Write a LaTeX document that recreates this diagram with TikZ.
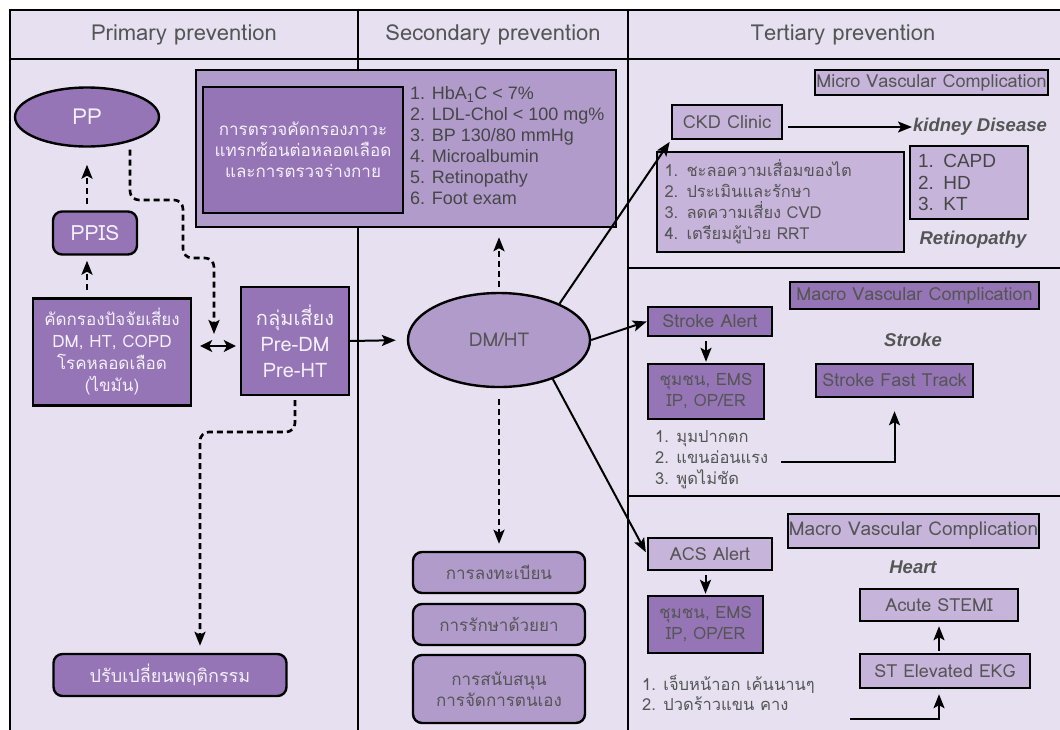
\documentclass[tikz,border=0pt]{standalone}
\usepackage{fontspec}
\setmainfont{Liberation Sans}
\newfontfamily\thai[Script=Thai]{Loma}
\usetikzlibrary{arrows.meta,shapes.geometric,calc}
\definecolor{bg}{HTML}{E6E0F0}
\definecolor{dark}{HTML}{9575B5}
\definecolor{mid}{HTML}{B19BCB}
\definecolor{light}{HTML}{C6B4DA}
\definecolor{txt}{HTML}{555555}
\definecolor{txtd}{HTML}{464646}
\definecolor{wtxt}{HTML}{F4F0FA}
\newcommand\tf[2]{\thai\fontsize{#1}{#2}\selectfont}
\newcommand\af[2]{\fontsize{#1}{#2}\selectfont}
\begin{document}
\begin{tikzpicture}[x=1pt,y=-1pt,
  bx/.style={draw=black,line width=2.4pt,inner sep=0pt,align=center},
  rbx/.style={bx,rounded corners=9pt},
  ell/.style={ellipse,draw=black,line width=2.4pt,inner sep=0pt},
  dk/.style={fill=dark},
  md/.style={fill=mid},
  lt/.style={fill=light},
  wt/.style={text=wtxt},
  gt/.style={text=txt},
  itl/.style={text=txt,font=\af{18.5}{22}\bfseries\itshape},
  arr/.style={line width=2pt,-{Stealth[length=14pt,width=11pt,inset=3pt]}},
  darr/.style={line width=2.6pt,dash pattern=on 6pt off 4pt,-{Stealth[length=14pt,width=11pt,inset=3pt]}},
  rule/.style={line width=2.8pt}]
\useasboundingbox (0,0) rectangle (1060,729);
\begin{scope}
\clip (0,0) rectangle (1060,729);
\fill[bg] (10,10) rectangle (1080,750);
\draw[rule] (10,750) -- (10,10) -- (1080,10);
\draw[rule] (10,59) -- (1080,59);
\draw[rule] (358,10) -- (358,750);
\draw[rule] (628,10) -- (628,750);
\draw[rule] (628,268) -- (1080,268);
\draw[rule] (628,496) -- (1080,496);

% headers
\node[gt,font=\tf{22}{26}] (h1) at (184,35) {Primary prevention};
\node[gt,font=\tf{22}{26}] (h2) at (493,35) {Secondary prevention};
\node[gt,font=\tf{22}{26}] (h3) at (843,35) {Tertiary prevention};

% primary
\node[ell,dk,wt,minimum width=144,minimum height=59,font=\tf{22}{26}] (pp) at (87,117) {PP};
\node[rbx,dk,wt,minimum width=84,minimum height=43,font=\tf{21}{25}] (ppis) at (95,233) {PPIS};
\node[bx,dk,wt,minimum width=158,minimum height=107,font=\tf{17}{22}] (kad) at (112,352) {คัดกรองปัจจัยเสี่ยง\\DM, HT, COPD\\โรคหลอดเลือด\\(ไขมัน)};
\node[bx,dk,wt,minimum width=108,minimum height=108,font=\tf{20}{26}] (risk) at (295,341) {กลุ่มเสี่ยง\\Pre-DM\\Pre-HT};
\node[rbx,dk,wt,minimum width=233,minimum height=42,font=\tf{18}{22}] (beh) at (170,675) {ปรับเปลี่ยนพฤติกรรม};

% secondary
\node[bx,md,minimum width=420,minimum height=157] (scr) at (406,148.5) {};
\node[bx,dk,wt,minimum width=200,minimum height=126,font=\tf{17}{21}] (scrin) at (303,150) {การตรวจคัดกรองภาวะ\\แทรกซ้อนต่อหลอดเลือด\\และการตรวจร่างกาย};
\node[anchor=west,align=left,inner sep=0pt,text=txtd,font=\af{18}{21}] (scrl) at (410,145.5) {1. HbA\textsubscript{1}C < 7\%\\2. LDL-Chol < 100 mg\%\\3. BP 130/80 mmHg\\4. Microalbumin\\5. Retinopathy\\6. Foot exam};
\node[ell,md,gt,minimum width=182,minimum height=94,font=\tf{19}{23}] (dm) at (499,340) {DM/HT};
\node[rbx,md,gt,minimum width=172,minimum height=41,font=\tf{17}{21}] (b1) at (499,572.5) {การลงทะเบียน};
\node[rbx,md,gt,minimum width=172,minimum height=41,font=\tf{17}{21}] (b2) at (499,624.5) {การรักษาด้วยยา};
\node[rbx,md,gt,minimum width=172,minimum height=68,font=\tf{17}{21}] (b3) at (499,689) {การสนับสนุน\\การจัดการตนเอง};

% tertiary: micro
\node[bx,lt,gt,minimum width=233,minimum height=25,font=\tf{18}{22}] (micro) at (931.5,82.5) {Micro Vascular Complication};
\node[bx,lt,gt,minimum width=110,minimum height=34,font=\tf{18}{22}] (ckd) at (727,122) {CKD Clinic};
\node[itl,anchor=west,inner sep=0pt] (kid) at (913,127) {kidney Disease};
\node[bx,lt,gt,text width=232,inner xsep=7.5pt,minimum height=100,align=left,font=\tf{16.5}{21}] (ckdl) at (780.5,202) {1. ชะลอความเสื่อมของไต\\2. ประเมินและรักษา\\3. ลดความเสี่ยง CVD\\4. เตรียมผู้ป่วย RRT};
\node[bx,lt,text=txtd,text width=102,inner xsep=8pt,minimum height=73,align=left,font=\af{19}{21.5}] (capd) at (969,182.5) {1. CAPD\\2. HD\\3. KT};
\node[itl] (ret) at (973,240) {Retinopathy};

% tertiary: stroke
\node[bx,dk,gt,minimum width=249,minimum height=27,font=\tf{18}{22}] (macro1) at (914.5,295.5) {Macro Vascular Complication};
\node[bx,dk,gt,minimum width=124,minimum height=29,font=\tf{18}{22}] (sa) at (710,321.5) {Stroke Alert};
\node[bx,dk,gt,minimum width=116,minimum height=55,font=\tf{17}{21}] (com1) at (706,391.5) {ชุมชน, EMS\\IP, OP/ER};
\node[itl] (stk) at (913,340) {Stroke};
\node[bx,dk,gt,minimum width=157,minimum height=33,font=\tf{18}{22}] (sft) at (894.5,380.5) {Stroke Fast Track};
\node[gt,anchor=west,align=left,inner sep=0pt,font=\tf{16.5}{21}] (sl) at (655,460) {1. มุมปากตก\\2. แขนอ่อนแรง\\3. พูดไม่ชัด};
\coordinate (s1) at (781,462);

% tertiary: heart
\node[bx,lt,gt,minimum width=251,minimum height=34,font=\tf{19}{22}] (macro2) at (913.5,531) {Macro Vascular Complication};
\node[bx,lt,gt,minimum width=124,minimum height=32,font=\tf{18}{22}] (acs) at (710,554) {ACS Alert};
\node[bx,dk,gt,minimum width=115,minimum height=57,font=\tf{17}{21}] (com2) at (705.5,624.5) {ชุมชน, EMS\\IP, OP/ER};
\node[itl] (hrt) at (913,567) {Heart};
\node[bx,lt,gt,minimum width=158,minimum height=32,font=\tf{18}{22}] (stemi) at (939,605) {Acute STEMI};
\node[bx,lt,gt,minimum width=170,minimum height=34,font=\tf{18}{22}] (ekg) at (945,671) {ST Elevated EKG};
\node[gt,anchor=west,align=left,inner sep=0pt,font=\tf{16.5}{20}] (hl) at (642,693) {1. เจ็บหน้าอก เค้นนานๆ\\2. ปวดร้าวแขน คาง};
\coordinate (h1) at (850,719);

% connectors
\coordinate (ppx) at (130,0);
\coordinate (m) at (214,346);
\coordinate (bxx) at (200,0);
\draw[darr,shorten <=6pt,shorten >=17pt] (ppis.north -| pp.south) -- (pp.south);
\draw[darr,shorten <=7pt,shorten >=5pt] (kad.north -| pp.south) -- (ppis.south -| pp.south);
\draw[line width=2pt,{Stealth[length=12pt,width=12pt,inset=3pt]}-{Stealth[length=12pt,width=12pt,inset=3pt]},shorten <=8pt,shorten >=4pt] (kad.east |- m) -- (risk.west |- m);
\draw[darr,rounded corners=9pt,shorten <=2pt,shorten >=12pt] (pp.south -| ppx) -- (130,200) -- (183,200) -- (183,258) -- (214,258) -- (m);
\draw[darr,rounded corners=9pt,shorten <=4pt,shorten >=7pt] (risk.south) -- (295,432) -- (200,432) -- (beh.north -| bxx);
\draw[arr,shorten >=11pt] (risk.east) -- (dm.west);
\draw[darr,shorten <=5pt,shorten >=9pt] (dm.north) -- (scr.south -| dm.north);
\draw[darr,shorten <=11pt,shorten >=7pt] (dm.south) -- (b1.north);
\draw[arr,shorten >=2pt] (dm.31) -- (ckd.south west);
\draw[arr] (dm.east) -- (sa.west);
\draw[arr,shorten >=2pt] (dm.-36) -- (acs.west);
\draw[arr,shorten <=5pt,shorten >=1pt] (ckd.east |- kid.west) -- (kid.west);
\draw[arr,shorten <=4pt,shorten >=1pt] (sa.south -| com1.north) -- (com1.north);
\draw[arr,shorten <=4pt,shorten >=1pt] (acs.south -| com2.north) -- (com2.north);
\draw[arr,shorten >=13pt] (s1) -| (sft.south);
\draw[arr,shorten >=5pt] (h1) -| (ekg.south -| stemi.south);
\draw[arr,shorten <=2pt,shorten >=4pt] (ekg.north -| stemi.south) -- (stemi.south);
\end{scope}
\end{tikzpicture}
\end{document}
